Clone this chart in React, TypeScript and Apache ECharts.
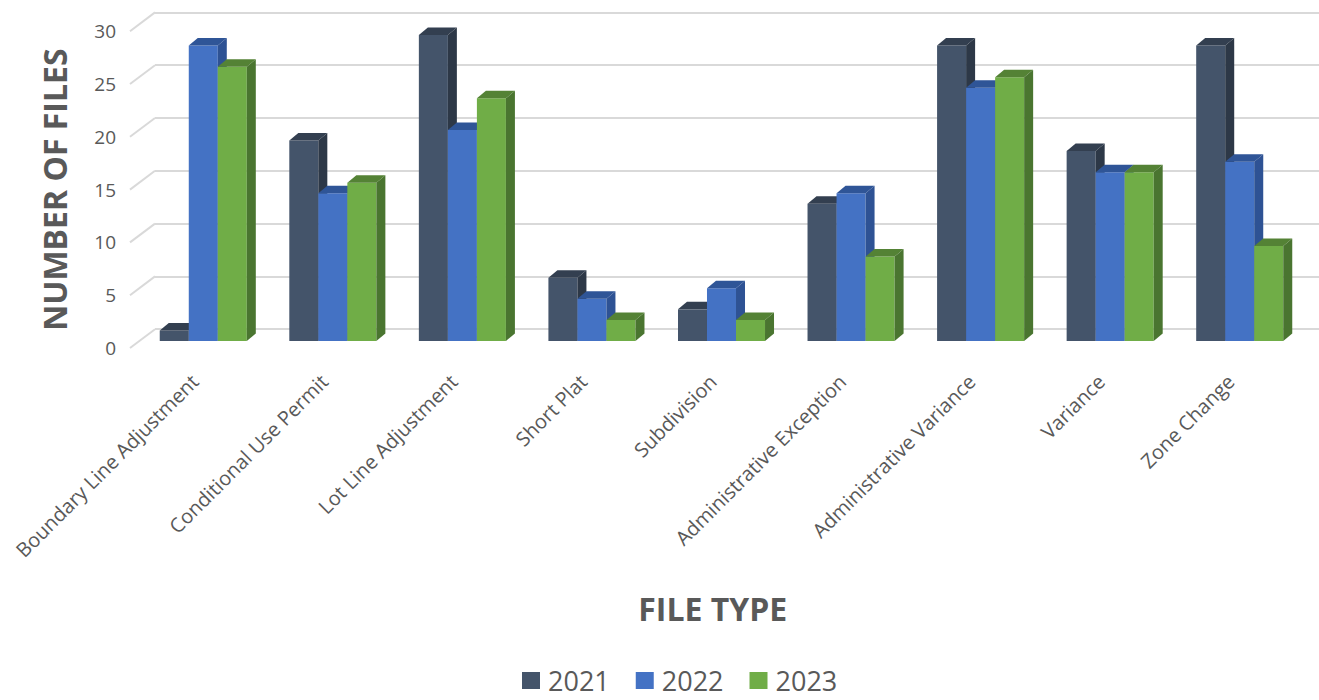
import React, { useEffect, useRef } from "react";
import * as echarts from "echarts";

// File counts by type and year
const categories = [
  "Boundary Line Adjustment",
  "Conditional Use Permit",
  "Lot Line Adjustment",
  "Short Plat",
  "Subdivision",
  "Administrative Exception",
  "Administrative Variance",
  "Variance",
  "Zone Change",
];
const years = ["2021", "2022", "2023"];
const files2021 = [1, 19, 29, 6, 3, 13, 28, 18, 28];
const files2022 = [28, 14, 20, 4, 5, 14, 24, 16, 17];
const files2023 = [26, 15, 23, 2, 2, 8, 25, 16, 9];
const yTicks = [0, 5, 10, 15, 20, 25, 30];

// front / top / side shades for each year's columns
const palettes = [
  { front: "#44546A", top: "#333F50", side: "#2D3847" },
  { front: "#4472C4", top: "#2F5597", side: "#2E5294" },
  { front: "#70AD47", top: "#548235", side: "#4A7530" },
];

const TEXT = "#595959";
const FONT = "'Open Sans', sans-serif";
const DEPTH_X = 9;
const DEPTH_Y = 7.5;
const WALL_X = 25;
const WALL_Y = 18.8;

function columnSeries(name: string, values: number[], idx: number) {
  const pal = palettes[idx];
  return {
    type: "custom",
    name,
    xAxisIndex: 0,
    yAxisIndex: 0,
    itemStyle: { color: pal.front },
    data: values.map((v, i) => [i, v]),
    renderItem: (params: any, api: any) => {
      const cat = api.value(0);
      const val = api.value(1);
      const band = api.size([1, 0])[0];
      const bw = band * 0.224;
      const top = api.coord([cat, val]);
      const base = api.coord([cat, 0]);
      const x0 = top[0] + (idx - 1.5) * bw;
      const x1 = x0 + bw;
      const yT = top[1];
      const yB = base[1];
      return {
        type: "group",
        children: [
          {
            type: "rect",
            shape: { x: x0, y: yT, width: bw, height: yB - yT },
            style: { fill: pal.front },
          },
          {
            type: "polygon",
            shape: {
              points: [
                [x0, yT],
                [x0 + DEPTH_X, yT - DEPTH_Y],
                [x1 + DEPTH_X, yT - DEPTH_Y],
                [x1, yT],
              ],
            },
            style: { fill: pal.top },
          },
          {
            type: "polygon",
            shape: {
              points: [
                [x1, yT],
                [x1 + DEPTH_X, yT - DEPTH_Y],
                [x1 + DEPTH_X, yB - DEPTH_Y],
                [x1, yB],
              ],
            },
            style: { fill: pal.side },
          },
        ],
      };
    },
  };
}

export default function App() {
  const ref = useRef<HTMLDivElement>(null);

  useEffect(() => {
    if (!ref.current) return;
    const chart = echarts.init(ref.current, null, { renderer: "svg" });
    const option = {
      animation: false,
      backgroundColor: "#ffffff",
      textStyle: { fontFamily: FONT },
      grid: [
        // column plane
        { left: 138.5, right: 14.5, top: 24.5, bottom: 359 },
        // front plane (value labels, category labels and titles)
        { left: 130, right: 23.5, top: 31.2, bottom: 352 },
        // back wall (gridlines)
        { left: 155, right: 0, top: 12.4, bottom: 370.8 },
      ],
      xAxis: [
        {
          gridIndex: 0,
          type: "category",
          data: categories,
          show: false,
        },
        {
          gridIndex: 1,
          type: "category",
          data: categories,
          axisLine: { show: false },
          axisTick: { show: false },
          splitLine: { show: false },
          axisLabel: {
            rotate: 45,
            interval: 0,
            margin: 30,
            color: TEXT,
            fontSize: 20,
            fontFamily: FONT,
          },
          name: "FILE TYPE",
          nameLocation: "middle",
          nameGap: 244,
          nameTextStyle: {
            color: TEXT,
            fontSize: 32,
            fontWeight: "bold",
            fontFamily: FONT,
          },
        },
        {
          gridIndex: 2,
          type: "value",
          min: 0,
          max: 1,
          show: false,
        },
      ],
      yAxis: [
        { gridIndex: 0, type: "value", min: 0, max: 30, interval: 5, show: false },
        {
          gridIndex: 1,
          type: "value",
          min: 0,
          max: 30,
          interval: 5,
          axisLine: { show: false },
          axisTick: { show: false },
          splitLine: { show: false },
          axisLabel: {
            margin: 14,
            color: TEXT,
            fontSize: 19,
            fontFamily: FONT,
          },
          name: "NUMBER OF FILES",
          nameLocation: "middle",
          nameGap: 60,
          nameTextStyle: {
            color: TEXT,
            fontSize: 32,
            fontWeight: "bold",
            fontFamily: FONT,
          },
        },
        {
          gridIndex: 2,
          type: "value",
          min: 0,
          max: 30,
          interval: 5,
          axisLine: { show: false },
          axisTick: { show: false },
          axisLabel: { show: false },
          splitLine: { show: true, lineStyle: { color: "#D9D9D9", width: 2 } },
        },
      ],
      legend: {
        top: 667,
        left: 522,
        padding: 0,
        itemWidth: 18,
        itemHeight: 17,
        itemGap: 26,
        icon: "rect",
        data: years,
        textStyle: {
          color: TEXT,
          fontSize: 27,
          lineHeight: 27,
          fontFamily: FONT,
          padding: [0, 0, 0, 3],
        },
      },
      series: [
        {
          // diagonal wall edges joining each value label to its gridline
          type: "custom",
          xAxisIndex: 2,
          yAxisIndex: 2,
          silent: true,
          data: yTicks.map((t) => [0, t]),
          renderItem: (params: any, api: any) => {
            const p = api.coord([0, api.value(1)]);
            return {
              type: "line",
              shape: { x1: p[0] - WALL_X, y1: p[1] + WALL_Y, x2: p[0], y2: p[1] },
              style: { stroke: "#D9D9D9", lineWidth: 2 },
            };
          },
        },
        columnSeries(years[0], files2021, 0),
        columnSeries(years[1], files2022, 1),
        columnSeries(years[2], files2023, 2),
      ],
    };
    chart.setOption(option as any);
    return () => chart.dispose();
  }, []);

  return (
    <div
      ref={ref}
      style={{ position: "absolute", left: 0, top: 0, width: 1319, height: 700 }}
    />
  );
}
